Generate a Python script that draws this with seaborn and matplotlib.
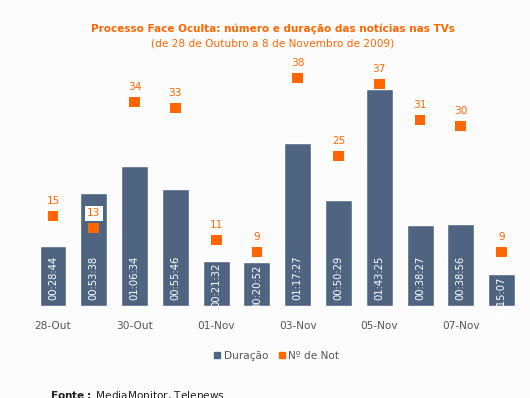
import numpy as np
import matplotlib.pyplot as plt
import seaborn as sns
import pandas as pd
from matplotlib.lines import Line2D

# data
dias = ["28-Out", "29-Out", "30-Out", "31-Out", "01-Nov", "02-Nov",
        "03-Nov", "04-Nov", "05-Nov", "06-Nov", "07-Nov", "08-Nov"]
duracao = ["00:28:44", "00:53:38", "01:06:34", "00:55:46", "00:21:32", "00:20:52",
           "01:17:27", "00:50:29", "01:43:25", "00:38:27", "00:38:56", "00:15:07"]
n_noticias = [15, 13, 34, 33, 11, 9, 38, 25, 37, 31, 30, 9]

def to_sec(s):
    h, m, sec = (int(v) for v in s.split(":"))
    return h * 3600 + m * 60 + sec

df = pd.DataFrame({"dia": dias, "dur": [to_sec(d) for d in duracao],
                   "label": duracao, "n": n_noticias})

bar_col = "#4e6480"
orange = "#ff6600"
grey = "#555555"
bg = "#fcfcfc"

sns.set_style("white")
plt.rcParams["font.family"] = ["DejaVu Sans"]

fig = plt.figure(figsize=(5.3, 3.98), dpi=100, facecolor=bg)
ax = fig.add_axes([0.0615, 0.2312, 0.9235, 0.618])
ax.set_facecolor("none")

sns.barplot(data=df, x="dia", y="dur", color=bar_col, width=0.66,
            saturation=1, ax=ax, zorder=2)
ax.set_ylim(0, 7034)
ax.set_xlim(-0.5, len(dias) - 0.5)

# duration labels inside the bars (short bars: hang from the top, clipped)
for i, row in df.iterrows():
    if row["dur"] < 1700:
        y, va = row["dur"] - 60, "top"
    else:
        y, va = 172, "bottom"
    t = ax.text(i, y, row["label"], rotation=90, ha="center", va=va,
                color="white", fontsize=7.2, zorder=3)
    t.set_clip_path(ax.patches[i])

ax2 = ax.twinx()
ax2.set_ylim(0, 41)
sns.scatterplot(x=np.arange(len(dias)), y=df["n"], marker="s", s=60,
                color=orange, edgecolor="none", ax=ax2, zorder=4)
for i, n in enumerate(n_noticias):
    kw = {}
    if i == 1:
        kw = dict(bbox=dict(facecolor="white", edgecolor="none", pad=1.5))
    ax2.text(i, n + 1.6, str(n), ha="center", va="bottom", color=orange,
             fontsize=7.6, zorder=5, **kw)

for a in (ax, ax2):
    for sp in a.spines.values():
        sp.set_visible(False)
    a.set_yticks([])
    a.set_ylabel("")
ax.set_xlabel("")
ax.set_xticks(range(0, len(dias), 2))
ax.set_xticklabels(dias[::2], color=grey, fontsize=7.6)
ax.tick_params(axis="x", length=0, pad=11)

fig.text(0.515, 0.927, "Processo Face Oculta: número e duração das notícias nas TVs",
         ha="center", va="center", color=orange, fontsize=7.5, fontweight="bold")
fig.text(0.515, 0.891, "(de 28 de Outubro a 8 de Novembro de 2009)",
         ha="center", va="center", color=orange, fontsize=7.6)

handles = [Line2D([], [], marker="s", ls="none", color=bar_col, markersize=5),
           Line2D([], [], marker="s", ls="none", color=orange, markersize=5)]
fig.legend(handles, ["Duração", "Nº de Not"], loc="center", ncol=2,
           bbox_to_anchor=(0.52, 0.106), frameon=False, fontsize=7.6,
           labelcolor=grey, handletextpad=0.1, columnspacing=0.8, handlelength=1)

fig.text(0.094, 0.022, r"$\bf{Fonte:}$ MediaMonitor, Telenews", ha="left", va="top",
         fontsize=7.6, color="#222222")

fig.savefig("out.png", dpi=100, facecolor=bg)
